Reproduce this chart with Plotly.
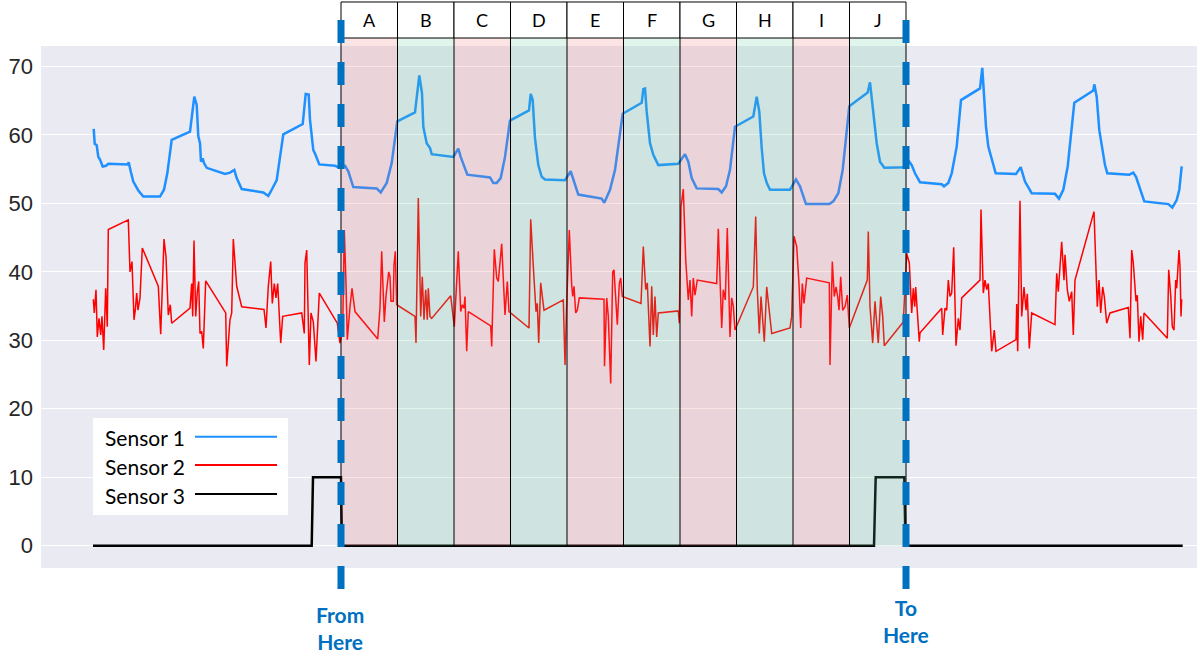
import plotly.graph_objects as go

# ---------------- data (time in samples, value in sensor units) ----------------
sensor1_points = [
    (0.7, 60.9), (1.7, 58.7), (3.7, 58.5), (5.3, 56.8), (7, 56.4), (9.7, 55.4), (13, 55.5), (15.3, 55.8),
    (34.7, 55.7), (35.7, 56.0), (37.7, 54.7), (40.3, 53.2), (45.3, 51.9), (50.3, 51.0), (67, 51.0), (71, 52.0),
    (74.3, 54.4), (78.7, 59.3), (97, 60.5), (101.3, 65.6), (103.7, 64.4), (105.3, 59.8), (107, 58.8), (108, 56.1),
    (109.7, 56.6), (111, 55.9), (113.7, 55.2), (132, 54.3), (137, 54.5), (141.3, 54.9), (143.7, 53.7), (148.7, 52.1),
    (170.3, 51.6), (175.3, 51.1), (178.7, 52.0), (183.7, 53.4), (190.3, 60.1), (209.7, 61.6), (212.7, 66.0),
    (215.7, 65.9), (217, 62.2), (220.3, 57.8), (222, 57.3), (226.3, 55.7), (242, 55.5), (247, 55.2), (252, 55.5),
    (255.3, 54.7), (260.3, 52.4), (283.7, 52.2), (287.7, 51.6), (293.7, 53.0), (298.7, 55.9), (304.3, 62.0),
    (322, 63.3), (326.3, 68.7), (329, 66.1), (330.3, 61.2), (333.7, 58.8), (337, 58.1), (338.7, 57.2),
    (360.3, 56.8), (365.3, 58.0), (367.7, 56.8), (374.3, 54.2), (397, 53.8), (400.3, 53.0), (403.7, 53.0),
    (407.7, 53.7), (412, 56.8), (417, 62.1), (436, 63.6), (437.7, 66.0), (439.7, 65.1), (442, 59.5),
    (445.3, 55.6), (448.7, 53.9), (452, 53.5), (472, 53.4), (474.3, 54.0), (477.7, 54.7), (485.3, 51.3),
    (508.7, 50.7), (511.3, 50.1), (517, 52.0), (522, 54.9), (529.7, 63.1),
    (548.7, 64.7), (550.3, 66.7), (552, 66.8), (553.7, 63.4), (557, 58.8), (560.3, 57.1), (565.3, 55.6),
    (585.3, 55.8), (592, 57.2), (595.3, 56.1), (598.7, 53.7), (603.7, 52.2), (625.3, 52.1), (628.7, 51.6),
    (633, 52.5), (637, 54.9), (642, 61.2), (660.3, 62.7), (663.7, 65.6), (666.3, 63.4), (668.7, 58.1),
    (671, 54.4), (673.7, 53.0), (677, 52.0), (697, 52.0), (703, 53.5), (707, 52.5), (713, 49.9),
    (736.3, 49.9), (740.3, 50.3), (745.3, 51.5), (749.7, 54.9), (756.3, 64.2), (774.7, 66.2), (777, 67.7),
    (780.3, 63.7), (783.7, 58.8), (787, 56.1), (791.3, 55.2), (813.7, 55.3),
    (816.3, 56.1), (818.7, 55.6), (822, 54.4), (827, 53.1), (848.7, 52.8), (851, 52.5), (855.3, 53.0),
    (858.7, 54.4), (863.7, 58.3), (868, 65.1), (887, 66.8), (889.3, 69.8), (893, 61.2), (895.3, 58.3),
    (898.7, 56.4), (902.7, 54.4), (923, 54.3), (927.7, 55.3), (932, 53.2), (938.7, 51.5), (962, 51.4),
    (966, 50.7), (970.3, 52.0), (974.7, 55.4), (981.3, 64.7), (1000.3, 66.5), (1001.3, 67.4), (1003.7, 65.6),
    (1006.3, 60.7), (1009.7, 57.8), (1012, 55.6), (1014.3, 54.4), (1036.3, 54.2), (1040.3, 54.5),
    (1043, 53.9), (1051.3, 50.3), (1075.3, 49.9), (1079.3, 49.4), (1083.7, 50.5), (1086.3, 52.0), (1088.7, 55.4),
]

sensor2_points = [
    (0.3, 36.0), (1.3, 34.0), (3, 37.4), (4.3, 30.5), (6, 33.2), (7.7, 30.8), (9, 33.5), (10.7, 28.6),
    (12.7, 37.6), (14.3, 32.0), (15.3, 46.2), (35.3, 47.6), (37, 40.0), (39, 41.5), (41, 33.0), (42.3, 34.4),
    (43.7, 36.9), (45, 34.4), (47, 36.2), (49.3, 43.5), (65.3, 37.9), (67.7, 30.9), (71, 44.8), (73, 42.2),
    (75.3, 33.7), (77.3, 35.2), (78.7, 32.5), (97, 34.7), (98.7, 38.3), (99.7, 33.5), (101, 44.6), (102.7, 33.5),
    (104.3, 37.1), (105.7, 38.6), (107, 31.0), (108.7, 31.3), (110.3, 28.8), (112.7, 38.7), (132.7, 34.0),
    (133.7, 26.2), (137, 33.0), (138.7, 34.0), (140.3, 44.8), (143.7, 37.9), (148.7, 34.9), (171, 34.5),
    (173, 31.8), (175.3, 37.9), (177.7, 41.5), (179.3, 35.4), (181.3, 38.3), (183, 36.2), (184.7, 38.3),
    (187.7, 29.6), (189.7, 33.5), (208.7, 34.0), (211.3, 31.0), (212, 41.3), (213.7, 43.2), (216.3, 26.4),
    (218, 34.0), (220.3, 32.7), (223, 26.9), (226.3, 36.9), (244.3, 32.5), (247, 29.6), (249.7, 31.8),
    (251.3, 46.1), (253, 38.3), (254.3, 30.1), (257, 34.9), (259, 37.6), (262, 34.2),
    (284.7, 30.2), (287, 34.7), (288.7, 43.0), (291.3, 32.7), (293, 36.5), (295.7, 40.0), (297, 39.3),
    (298, 35.7), (300.3, 35.7), (301, 41.0), (302.3, 43.0), (303.7, 35.2), (322, 33.5), (323, 29.6),
    (325.3, 50.8), (327.7, 33.5), (329.3, 39.3), (331, 33.0), (332.7, 37.4), (334.3, 33.0), (335.3, 37.6),
    (337, 33.5), (338.7, 33.2), (357.7, 36.5), (359.7, 34.2), (361.3, 32.0), (365.3, 43.0), (367.7, 34.2),
    (369.3, 35.2), (371, 34.7), (372, 36.4), (373.7, 28.4), (375.3, 34.2), (397.7, 32.1), (398.7, 29.1),
    (399.7, 36.6), (401.3, 43.3), (403.7, 39.1), (405.3, 38.6), (408.7, 44.1), (412, 33.7), (414.3, 38.6),
    (416, 34.2), (436, 31.8), (437.7, 47.7), (440.3, 40.8), (443, 34.2), (444.3, 35.4), (445.7, 29.6),
    (447.7, 38.4), (451, 34.4), (470.3, 35.9), (472, 26.4), (473.7, 35.4), (476.3, 46.1), (478.7, 38.1),
    (479.7, 36.4), (481, 37.9), (482.7, 34.0), (484.3, 34.4), (486.3, 36.2), (511, 36.0), (511.5, 26.2),
    (513.7, 36.2), (515.3, 33.5), (517.7, 23.7), (519.7, 40.0), (521, 40.3), (522.7, 35.2), (524.3, 32.3),
    (526.3, 38.3), (527.7, 39.1), (529.3, 36.4),
    (548, 35.4), (550.3, 43.7), (552.7, 37.4), (554.3, 38.4), (555.3, 35.4), (557, 29.1), (558.7, 37.9),
    (560.3, 30.8), (562, 36.4), (563.7, 30.5), (565.3, 34.0), (585.3, 34.3), (586.3, 32.5), (588, 49.5),
    (590.3, 52.1), (592.7, 41.8), (595.3, 35.9), (597, 38.8), (598.7, 33.5), (600.3, 39.1), (602, 36.6),
    (604.3, 38.8), (623.7, 38.3), (625.3, 46.3), (628.7, 31.8), (630.3, 37.4), (632.3, 35.9), (634.3, 46.4),
    (637, 30.5), (638.7, 36.2), (640.3, 35.0), (642, 31.5), (660.3, 37.8), (662.7, 48.1), (664.3, 37.4),
    (666.3, 31.0), (668, 36.4), (669.7, 33.0), (671.3, 29.8), (673.7, 37.8), (676, 34.9), (678.7, 31.0),
    (697, 31.8), (698.7, 33.5), (701, 45.2), (703.7, 43.7), (706, 38.3), (707.7, 31.8), (709.3, 38.3),
    (711, 35.4), (713.7, 39.1), (736.3, 38.4), (737, 26.4), (739.3, 41.5), (741.3, 36.4), (743, 37.8),
    (744.7, 36.4), (746, 34.4), (747.7, 39.3), (749.7, 34.4), (752, 34.9), (754.3, 36.6), (756.3, 31.8),
    (774.3, 38.8), (775.3, 45.9), (777, 34.9), (779.7, 29.6), (782, 35.7), (783.7, 32.5), (785.3, 29.6),
    (787.7, 36.4), (789.7, 33.5), (791.3, 29.2),
    (810.3, 32.7), (813.7, 42.7), (816.3, 41.3), (818.7, 34.0), (820.3, 37.6), (821.7, 34.9), (822.7, 37.8),
    (826.3, 29.8), (827, 31.1), (848.7, 34.7), (849.7, 30.8), (852, 34.7), (853.7, 34.4), (855.3, 38.8),
    (857, 36.4), (858.7, 36.9), (860.7, 43.6), (863, 29.2), (865.3, 33.2), (867, 31.5), (868.7, 36.2),
    (887, 38.8), (888, 49.1), (890.3, 36.9), (892, 38.8), (893.7, 37.4), (895.3, 38.3), (898.7, 28.4),
    (901.3, 31.5), (903, 28.4), (923, 30.1), (923.7, 35.3), (924.7, 28.4), (927, 50.4), (928.7, 33.5),
    (931, 37.8), (933, 34.4), (934.3, 36.8), (936.3, 28.8), (938.7, 34.0), (962, 32.3), (963.7, 39.8),
    (965.3, 37.1), (968.7, 44.4), (971, 38.8), (972, 42.5), (974.3, 37.4), (976.3, 35.7), (978.7, 37.1),
    (980.3, 30.8), (982, 38.8), (1001, 48.8), (1003, 40.0), (1004.3, 34.9), (1006, 38.8), (1007.7, 34.0),
    (1009.7, 37.8), (1011.3, 36.4), (1013.7, 32.5), (1017, 34.0), (1035.3, 34.8), (1037, 30.3),
    (1038.7, 43.2), (1040.3, 41.3), (1043, 35.7), (1044.3, 36.6), (1046, 29.8), (1047.7, 33.5),
    (1049.7, 30.1), (1051, 34.0), (1074.3, 30.3), (1075.7, 40.3), (1077.7, 36.6), (1079.3, 32.0),
    (1081, 31.5), (1082.7, 38.8), (1083.7, 37.6), (1084.7, 40.0), (1086, 43.2), (1087, 40.8), (1088, 33.5),
    (1088.7, 36.0),
]

sensor3_points = [
    (0, 0), (218.7, 0), (220, 10), (248, 10), (249, 0), (781, 0), (782.7, 10), (811.3, 10), (812.5, 0),
    (1089.7, 0),
]

region_labels = ["A", "B", "C", "D", "E", "F", "G", "H", "I", "J"]
region_start = 248.0
region_width = 56.5
window_start = 248.0
window_end = 813.0

y_ticks = [0, 10, 20, 30, 40, 50, 60, 70]
series_names = ["Sensor 1", "Sensor 2", "Sensor 3"]
series_colors = ["#1E90FF", "#FF0000", "#000000"]

X_RANGE = [-52, 1104]
Y_RANGE = [-3.26, 73.0]


def ypaper(v):
    return (v - Y_RANGE[0]) / (Y_RANGE[1] - Y_RANGE[0])


fig = go.Figure()
for pts, name, color, width in [
    (sensor1_points, series_names[0], series_colors[0], 2.5),
    (sensor2_points, series_names[1], series_colors[1], 1.5),
    (sensor3_points, series_names[2], series_colors[2], 2.5),
]:
    fig.add_trace(go.Scatter(
        x=[p[0] for p in pts], y=[p[1] for p in pts], mode="lines", name=name,
        line=dict(color=color, width=width), showlegend=False, hoverinfo="skip",
    ))

shapes = []
annotations = []
edges = [region_start + i * region_width for i in range(len(region_labels) + 1)]
HEAD_TOP = 1.0843
HEAD_BOT = 1.0153
zero_p = ypaper(0)

for i, lab in enumerate(region_labels):
    fill = "rgba(240,110,115,0.19)" if i % 2 == 0 else "rgba(92,202,150,0.19)"
    shapes.append(dict(type="rect", xref="x", yref="paper", x0=edges[i], x1=edges[i + 1],
                       y0=zero_p, y1=HEAD_BOT, fillcolor=fill, line=dict(width=0), layer="above"))
for i, lab in enumerate(region_labels):
    shapes.append(dict(type="rect", xref="x", yref="paper", x0=edges[i], x1=edges[i + 1],
                       y0=HEAD_BOT, y1=HEAD_TOP, fillcolor="white",
                       line=dict(color="black", width=1), layer="above"))
    annotations.append(dict(x=(edges[i] + edges[i + 1]) / 2, y=(HEAD_TOP + HEAD_BOT) / 2,
                            xref="x", yref="paper", text=lab, showarrow=False, yanchor="middle",
                            font=dict(family="Lato", size=18, color="black")))
for e in edges:
    shapes.append(dict(type="line", xref="x", yref="paper", x0=e, x1=e, y0=HEAD_BOT, y1=zero_p,
                       line=dict(color="black", width=1), layer="above"))

# dashed "window" markers
for xw in (window_start, window_end):
    shapes.append(dict(type="line", xref="x", yref="paper", x0=xw, x1=xw, y0=1.0498, y1=-0.0402,
                       line=dict(color="#0070C0", width=7, dash="23px,19px"), layer="above"))

annotations.append(dict(x=window_start - 1, y=-0.115, xref="x", yref="paper", text="From<br>Here",
                        showarrow=False, yanchor="middle",
                        font=dict(family="Lato", size=21, color="#0070C0", weight="bold")))
annotations.append(dict(x=window_end, y=-0.1015, xref="x", yref="paper", text="To<br>Here",
                        showarrow=False, yanchor="middle",
                        font=dict(family="Lato", size=21, color="#0070C0", weight="bold")))

# custom legend (text followed by line sample)
shapes.append(dict(type="rect", xref="paper", yref="paper", x0=0.045, x1=0.2137, y0=0.1015, y1=0.2874,
                   fillcolor="white", line=dict(width=0), layer="above"))
leg_y = [0.2496, 0.1954, 0.1398]
for name, color, yy in zip(series_names, series_colors, leg_y):
    annotations.append(dict(x=0.0535, y=yy, xref="paper", yref="paper", text=name, showarrow=False,
                            xanchor="left", yanchor="middle",
                            font=dict(family="Lato", size=21, color="black")))
    shapes.append(dict(type="line", xref="paper", yref="paper", x0=0.1332, x1=0.2042, y0=yy + 0.002,
                       y1=yy + 0.002, line=dict(color=color, width=2), layer="above"))

fig.update_layout(
    width=1197, height=661,
    margin=dict(l=41, r=0, t=46, b=93),
    paper_bgcolor="white", plot_bgcolor="#EAEAF2",
    shapes=shapes, annotations=annotations,
    xaxis=dict(range=X_RANGE, showgrid=False, zeroline=False, showticklabels=False, ticks="",
               showline=False, automargin=False),
    yaxis=dict(range=Y_RANGE, tickvals=y_ticks, showgrid=True, gridcolor="white", gridwidth=1,
               zeroline=False, ticks="", showline=False, automargin=False, ticklabelstandoff=7,
               tickfont=dict(family="Liberation Sans", size=22, color="#262626")),
    font=dict(family="Liberation Sans"),
)

fig.write_html("out.html", config={"displayModeBar": False},
               post_script="document.body.style.margin='0';document.body.style.overflow='hidden';")
